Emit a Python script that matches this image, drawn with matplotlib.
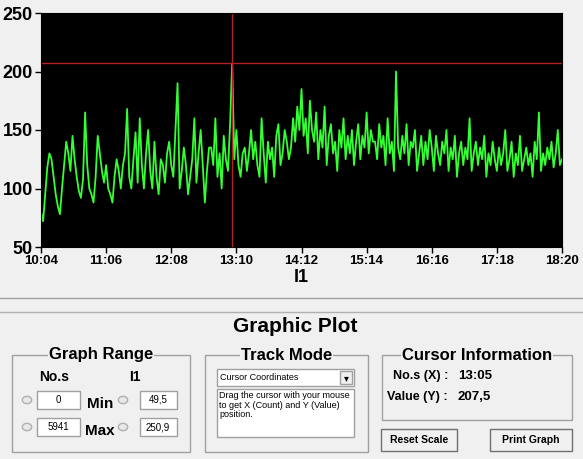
import matplotlib
matplotlib.use('Agg')
import numpy as np
from matplotlib import pyplot as plt
from matplotlib.patches import Rectangle

plt.rcParams['font.family'] = ['Liberation Sans', 'DejaVu Sans']

W, H = 583, 459

# I1 values, one every 2 minutes starting 10:04
values = [
    80, 72, 95, 118, 130, 125, 110, 95, 85, 78,
    100, 120, 140, 130, 115, 145, 125, 110, 98, 92,
    108, 165, 120, 100, 95, 88, 110, 145, 130, 115,
    105, 120, 100, 95, 88, 110, 125, 115, 100, 120,
    130, 168, 110, 100, 125, 148, 105, 160, 120, 100,
    130, 150, 115, 100, 140, 110, 95, 125, 120, 105,
    130, 140, 120, 110, 150, 190, 100, 115, 135, 120,
    95, 110, 125, 160, 105, 130, 150, 120, 88, 115,
    135, 135, 120, 160, 110, 130, 100, 145, 125, 115,
    155, 207, 125, 150, 120, 110, 130, 135, 115, 130,
    150, 125, 140, 120, 110, 160, 130, 105, 140, 125,
    135, 110, 145, 155, 120, 130, 150, 140, 125, 135,
    160, 140, 170, 150, 185, 145, 160, 130, 175, 150,
    140, 165, 125, 150, 135, 170, 120, 145, 155, 130,
    140, 115, 150, 135, 160, 125, 145, 130, 150, 120,
    140, 155, 125, 145, 135, 165, 130, 150, 140, 140,
    125, 155, 135, 145, 120, 160, 130, 140, 115, 200,
    135, 125, 145, 130, 155, 120, 140, 135, 150, 115,
    130, 145, 120, 140, 125, 150, 135, 115, 145, 130,
    120, 140, 130, 150, 115, 135, 125, 145, 110, 130,
    140, 120, 135, 125, 160, 115, 130, 140, 120, 135,
    125, 145, 110, 130, 120, 140, 125, 115, 135, 120,
    130, 150, 115, 125, 140, 110, 130, 120, 145, 115,
    125, 135, 120, 130, 110, 140, 125, 165, 115, 130,
    120, 135, 125, 140, 118, 130, 150, 120, 125,
]
minutes = np.arange(len(values)) * 2
tick_labels = ['10:04', '11:06', '12:08', '13:10', '14:12', '15:14', '16:16', '17:18', '18:20']
cursor_x, cursor_y = 182, 207.5


def fx(x):
    return x / W


def fy(y):
    return 1 - y / H


fig = plt.figure(figsize=(W / 100, H / 100), dpi=100, facecolor='#f0f0f0')

ax = fig.add_axes([fx(41), fy(247), fx(562) - fx(41), fy(13) - fy(247)])
ax.set_facecolor('black')
ax.plot(minutes, values, color='#33ff33', lw=1.3)
ax.axvline(cursor_x, color='#b22222', lw=1)
ax.axhline(cursor_y, color='#b22222', lw=1)
ax.set_xlim(0, 496)
ax.set_ylim(50, 250)
ax.set_xticks(np.arange(9) * 62)
ax.set_xticklabels(tick_labels, fontsize=9.5, fontweight='bold')
ax.set_yticks([50, 100, 150, 200, 250])
ax.set_yticklabels(['50', '100', '150', '200', '250'], fontsize=13, fontweight='bold')
ax.tick_params(length=4, width=1, pad=2)
ax.set_xlabel('I1', fontsize=13, fontweight='bold', labelpad=1)

# bottom panel
fig.add_artist(plt.Line2D([0, 1], [fy(298), fy(298)], color='#a0a0a0', lw=1, transform=fig.transFigure))
fig.add_artist(plt.Line2D([0, 1], [fy(312), fy(312)], color='#b0b0b0', lw=1, transform=fig.transFigure))
fig.text(fx(295), fy(326), 'Graphic Plot', fontsize=15, fontweight='bold', ha='center', va='center')


def group(x0, y0, x1, y1, title, size):
    r = Rectangle((fx(x0), fy(y1)), fx(x1) - fx(x0), fy(y0) - fy(y1), fill=False,
                  ec='#a0a0a0', lw=1, transform=fig.transFigure)
    fig.add_artist(r)
    fig.text(fx((x0 + x1) / 2), fy(y0), title, fontsize=size, fontweight='bold', ha='center', va='center',
             bbox=dict(fc='#f0f0f0', ec='none', pad=1))


def box(x0, y0, x1, y1, fc='white', ec='#a0a0a0'):
    fig.add_artist(Rectangle((fx(x0), fy(y1)), fx(x1) - fx(x0), fy(y0) - fy(y1),
                             fc=fc, ec=ec, lw=1, transform=fig.transFigure))


group(12, 355, 190, 452, 'Graph Range', 12)
group(205, 355, 368, 452, 'Track Mode', 12)
group(382, 355, 572, 420, 'Cursor Information', 12)

fig.text(fx(54), fy(377), 'No.s', fontsize=10, fontweight='bold', ha='center', va='center')
fig.text(fx(135), fy(377), 'I1', fontsize=10, fontweight='bold', ha='center', va='center')
for y, a, b, lab in [(400, '0', '49,5', 'Min'), (427, '5941', '250,9', 'Max')]:
    box(37, y - 9, 80, y + 9)
    box(140, y - 9, 177, y + 9)
    fig.text(fx(58), fy(y), a, fontsize=7, ha='center', va='center')
    fig.text(fx(158), fy(y), b, fontsize=7, ha='center', va='center')
    fig.text(fx(100), fy(y + 4), lab, fontsize=11, fontweight='bold', ha='center', va='center')
    for sx in (27, 123):
        fig.add_artist(plt.Circle((fx(sx), fy(y)), 0.008, fc='#e8e8e8', ec='#b0b0b0',
                                  transform=fig.transFigure))

box(217, 369, 354, 386)
fig.text(fx(220), fy(377.5), 'Cursor Coordinates', fontsize=6.5, ha='left', va='center')
box(340, 371, 352, 384, fc='#f0f0f0')
fig.text(fx(346), fy(378), '▾', fontsize=7, ha='center', va='center')
box(217, 389, 354, 437)
fig.text(fx(219), fy(391), 'Drag the cursor with your mouse\nto get X (Count) and Y (Value)\nposition.',
         fontsize=6.5, ha='left', va='top', linespacing=1.1)

fig.text(fx(448), fy(376), 'No.s (X) :', fontsize=9, fontweight='bold', ha='right', va='center')
fig.text(fx(458), fy(376), '13:05', fontsize=9.5, fontweight='bold', ha='left', va='center')
fig.text(fx(448), fy(397), 'Value (Y) :', fontsize=9, fontweight='bold', ha='right', va='center')
fig.text(fx(458), fy(397), '207,5', fontsize=9.5, fontweight='bold', ha='left', va='center')

for x0, x1, lab in [(381, 457, 'Reset Scale'), (490, 572, 'Print Graph')]:
    box(x0, 429, x1, 451, fc='#f0f0f0', ec='#707070')
    fig.text(fx((x0 + x1) / 2), fy(440), lab, fontsize=7.5, fontweight='bold', ha='center', va='center')

fig.savefig('out.png', dpi=100, facecolor=fig.get_facecolor())
